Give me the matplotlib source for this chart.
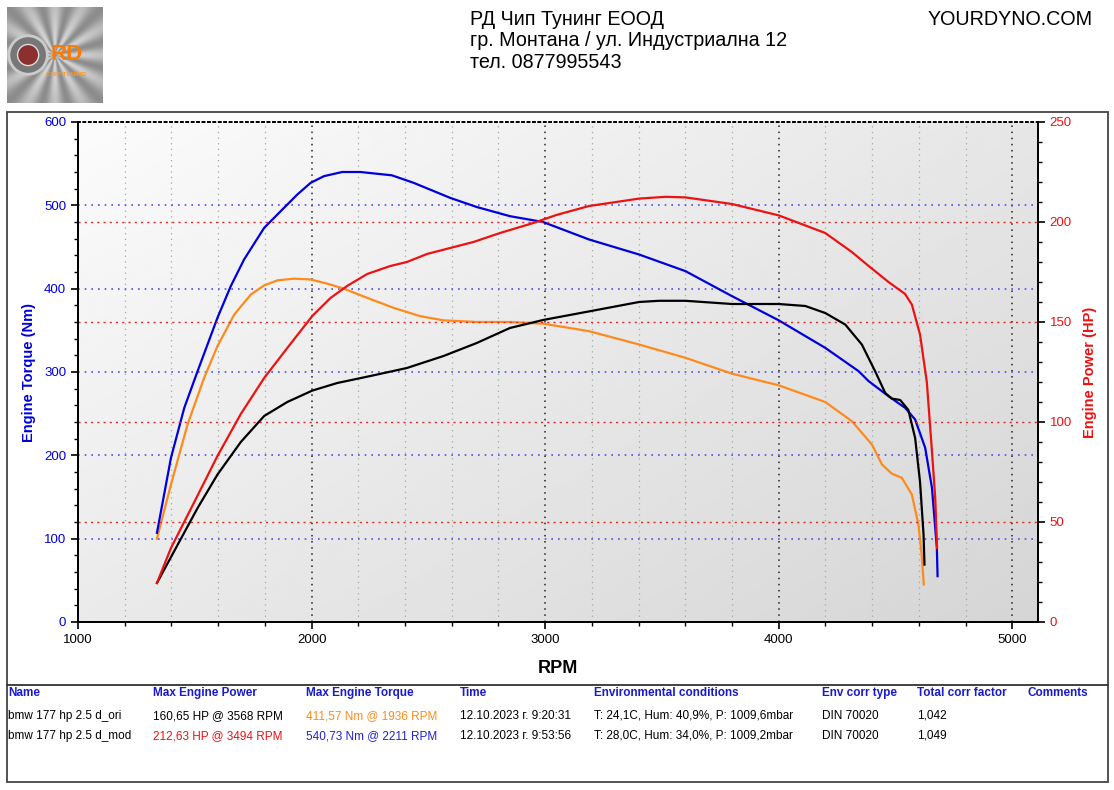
import numpy as np
import matplotlib.pyplot as plt
from matplotlib.patches import Rectangle, Circle
from matplotlib.lines import Line2D

plt.rcParams['font.family'] = ['Liberation Sans', 'DejaVu Sans']

# ===== данни (RPM, Nm / HP) =====
rpm_tq_mod = [1338, 1398, 1455, 1512, 1597, 1654, 1711, 1797, 1882, 1939, 1996, 2053,
              2131, 2209, 2344, 2437, 2593, 2707, 2849, 2991, 3188, 3402, 3601, 3800,
              4000, 4199, 4342, 4385, 4470, 4541, 4584, 4627, 4656, 4677, 4680]
tq_mod = [107, 197, 257, 301, 365, 403, 435, 473, 497, 513, 527, 535,
          540, 540, 536, 527, 509, 498, 487, 480, 459, 441, 421, 391,
          362, 329, 301, 289, 271, 257, 243, 209, 161, 89, 55]

rpm_tq_ori = [1338, 1398, 1469, 1540, 1597, 1669, 1740, 1797, 1854, 1925, 1996, 2067,
              2138, 2238, 2351, 2465, 2565, 2707, 2849, 2991, 3188, 3402, 3601, 3800,
              4000, 4199, 4313, 4399, 4442, 4484, 4527, 4570, 4598, 4612, 4621]
tq_ori = [100, 165, 237, 293, 331, 369, 393, 404, 410, 412, 411, 406,
          400, 389, 377, 367, 362, 360, 360, 358, 349, 333, 317, 298,
          284, 264, 241, 213, 189, 178, 173, 153, 117, 81, 45]

rpm_hp_mod = [1338, 1398, 1498, 1597, 1697, 1797, 1896, 2003, 2081, 2152, 2238, 2337,
              2408, 2494, 2593, 2693, 2807, 2949, 3048, 3188, 3402, 3516, 3601, 3800,
              4000, 4199, 4313, 4385, 4470, 4541, 4570, 4605, 4634, 4655, 4670, 4678]
hp_mod = [19.5, 37, 60, 83, 104, 122, 137, 153, 162, 168, 174, 178,
          180, 184, 187, 190, 194.5, 199.5, 203.5, 208, 211.7, 212.6, 212.3, 209,
          203.3, 194.5, 185, 178, 170, 164, 158.7, 143.7, 120, 87, 62, 37]

rpm_hp_ori = [1338, 1427, 1512, 1597, 1697, 1797, 1896, 2003, 2110, 2252, 2408, 2565,
              2707, 2849, 2991, 3188, 3402, 3487, 3601, 3800, 4000, 4114, 4199, 4285,
              4356, 4413, 4456, 4484, 4520, 4555, 4584, 4605, 4620, 4624]
hp_ori = [19.5, 38.7, 57, 73.7, 90, 103, 110, 115.7, 119.5, 123, 127, 133,
          139.5, 147, 151, 155.3, 160, 160.6, 160.6, 159, 159, 158, 154.5, 148.7,
          138.7, 125.3, 114.5, 111.7, 111, 106, 92, 70, 43.7, 28.7]

# ===== таблица =====
tbl_headers = ["Name", "Max Engine Power", "Max Engine Torque", "Time",
               "Environmental conditions", "Env corr type", "Total corr factor", "Comments"]
tbl_rows = [
    ["bmw 177 hp 2.5 d_ori", "160,65 HP @ 3568 RPM", "411,57 Nm @ 1936 RPM",
     "12.10.2023 г. 9:20:31", "T: 24,1C, Hum: 40,9%, P: 1009,6mbar", "DIN 70020", "1,042", ""],
    ["bmw 177 hp 2.5 d_mod", "212,63 HP @ 3494 RPM", "540,73 Nm @ 2211 RPM",
     "12.10.2023 г. 9:53:56", "T: 28,0C, Hum: 34,0%, P: 1009,2mbar", "DIN 70020", "1,049", ""],
]
header_lines = ["РД Чип Тунинг ЕООД", "гр. Монтана / ул. Индустриална 12", "тел. 0877995543"]

BLUE = '#0000dd'
RED = '#ee1111'
ORANGE = '#ff8a1c'
TXT_BLUE = '#1a1acc'

W, H = 1114, 790
fig = plt.figure(figsize=(W / 100, H / 100), dpi=100)


def fx(px):
    return px / W


def fy(py):
    return 1 - py / H


# ===== рамка =====
fig.add_artist(Rectangle((fx(7), fy(782)), fx(1108) - fx(7), fy(112) - fy(782),
                         transform=fig.transFigure, fill=False, ec='#444444', lw=1.3))
fig.add_artist(Line2D([fx(7), fx(1108)], [fy(685), fy(685)], transform=fig.transFigure,
                      color='#333333', lw=1.3))

# ===== основна графика =====
ax = fig.add_axes([fx(78), fy(622), fx(1038) - fx(78), fy(122) - fy(622)])
u, v = np.meshgrid(np.linspace(0, 1, 200), np.linspace(0, 1, 200))
grad = 0.985 - 0.15 * (0.55 * u + 0.45 * (1 - v))
ax.imshow(grad, extent=[0, 1, 0, 1], transform=ax.transAxes, origin='lower',
          cmap='gray', vmin=0, vmax=1, aspect='auto', zorder=0, interpolation='bilinear')

ax.set_xlim(1000, 5110)
ax.set_ylim(0, 600)
ax2 = ax.twinx()
ax2.set_ylim(0, 250)

dot = (0, (1, 3.5))
for r in range(1200, 5100, 200):
    if r % 1000:
        ax.axvline(r, color='#9aae9a', lw=0.9, ls=dot, zorder=1)
for r in [2000, 3000, 4000, 5000]:
    ax.axvline(r, color='#222222', lw=1.1, ls=(0, (1, 3)), zorder=1)
for t in [100, 200, 300, 400, 500]:
    ax.axhline(t, color='#5050e0', lw=1.2, ls=(0, (1, 3)), zorder=1)
for p in [50, 100, 150, 200]:
    ax2.axhline(p, color='#e02a2a', lw=1.0, ls=(0, (1.5, 3)), zorder=1)

ax.plot(rpm_tq_ori, tq_ori, color=ORANGE, lw=1.6, zorder=3)
ax.plot(rpm_tq_mod, tq_mod, color=BLUE, lw=1.6, zorder=3)
ax2.plot(rpm_hp_ori, hp_ori, color='black', lw=1.6, zorder=3)
ax2.plot(rpm_hp_mod, hp_mod, color=RED, lw=1.6, zorder=3)

ax.set_xticks([1000, 2000, 3000, 4000, 5000])
ax.set_xticks(np.arange(1200, 5100, 200), minor=True)
ax.set_yticks(np.arange(0, 601, 100))
ax.set_yticks(np.arange(0, 601, 20), minor=True)
ax2.set_yticks(np.arange(0, 251, 50))
ax2.set_yticks(np.arange(0, 251, 10), minor=True)

for a in (ax, ax2):
    a.tick_params(which='major', direction='out', length=5, width=1.2, labelsize=9.5)
    a.tick_params(which='minor', direction='out', length=3, width=1.0)
    for s in a.spines.values():
        s.set_linewidth(1.3)
    a.spines['top'].set_linestyle((0, (1, 2)))
ax.tick_params(axis='y', colors='black', labelcolor=BLUE)
ax2.tick_params(axis='y', colors='black', labelcolor=RED)

ax.set_xlabel("RPM", fontsize=13, fontweight='bold', labelpad=10)
ax.set_ylabel("Engine Torque (Nm)", fontsize=10.5, fontweight='bold', color=BLUE, labelpad=6)
ax2.set_ylabel("Engine Power (HP)", fontsize=10.5, fontweight='bold', color=RED, labelpad=8)

# ===== лого =====
lax = fig.add_axes([fx(7), fy(103), fx(103) - fx(7), fy(7) - fy(103)])
lu, lv = np.meshgrid(np.linspace(-1, 1, 120), np.linspace(-1, 1, 120))
ang = np.arctan2(lv, lu)
logo = 0.55 + 0.3 * np.cos(6 * ang) ** 2 * np.exp(-0.4 * (lu ** 2 + lv ** 2))
lax.imshow(logo, cmap='gray', vmin=0, vmax=1, extent=[0, 1, 0, 1], aspect='auto')
lax.add_patch(Circle((0.22, 0.5), 0.2, fc='#777777', ec='#cccccc', lw=2))
lax.add_patch(Circle((0.22, 0.5), 0.11, fc='#8a3030', ec='#dddddd', lw=1))
lax.text(0.62, 0.5, "RD", color='#ff7a00', fontsize=16, fontweight='bold',
         ha='center', va='center')
lax.text(0.62, 0.3, "CHIP TUNING", color='#ff9a20', fontsize=4.5, fontweight='bold',
         ha='center', va='center')
lax.set_xlim(0, 1)
lax.set_ylim(0, 1)
lax.axis('off')

# ===== заглавие =====
for i, line in enumerate(header_lines):
    fig.text(fx(470), fy(25 + i * 21.5), line, fontsize=14.2, va='baseline', ha='left')
fig.text(fx(1093), fy(25), "YOURDYNO.COM", fontsize=14.2, va='baseline', ha='right')

# ===== таблица =====
col_x = [8, 153, 306, 460, 594, 822, 917, 1027]
row_colors = [
    ['black', 'black', ORANGE, 'black', 'black', 'black', 'black', 'black'],
    ['black', RED, '#2222cc', 'black', 'black', 'black', 'black', 'black'],
]
for x, h in zip(col_x, tbl_headers):
    fig.text(fx(x), fy(696), h, fontsize=8.5, fontweight='bold', color=TXT_BLUE, va='baseline')
for r, (row, cols) in enumerate(zip(tbl_rows, row_colors)):
    for x, val, c in zip(col_x, row, cols):
        fig.text(fx(x), fy(719 + r * 20), val, fontsize=8.5, color=c, va='baseline')

fig.savefig("out.png", dpi=100)
